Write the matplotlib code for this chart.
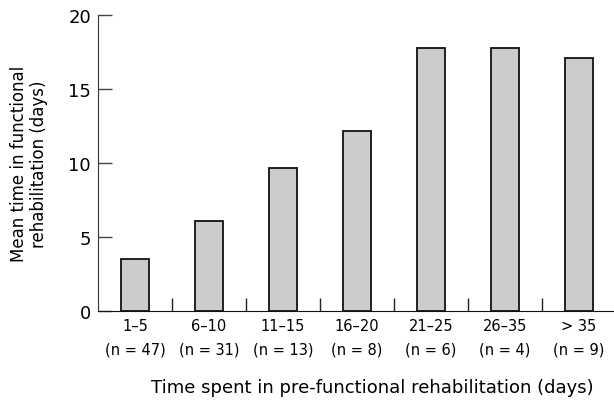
import matplotlib.pyplot as plt
import numpy as np

# 데이터
groups = ["1\u20135", "6\u201310", "11\u201315", "16\u201320", "21\u201325", "26\u201335", "> 35"]
counts = [47, 31, 13, 8, 6, 4, 9]
mean_days = [3.56, 6.1, 9.68, 12.15, 17.74, 17.74, 17.1]
y_ticks = [0, 5, 10, 15, 20]

plt.rcParams["font.family"] = ["DejaVu Sans"]

fig = plt.figure(figsize=(6.14, 4.06), dpi=100)
ax = fig.add_axes([98 / 614, 93.7 / 406, 518 / 614, 296.3 / 406])

x = np.arange(len(groups))
ax.bar(x, mean_days, width=0.39, color="#cccccc", edgecolor="#111111", linewidth=1.3)

ax.set_xlim(-0.5, len(groups) - 0.5)
ax.set_ylim(0, 20)
ax.set_yticks(y_ticks)
ax.tick_params(axis="y", direction="in", length=10, width=1, color="#444444",
               labelsize=13, pad=5)

labels = [f"{g}\n(n = {n})" for g, n in zip(groups, counts)]
ax.set_xticks(x)
ax.set_xticklabels(labels, fontsize=10.5, linespacing=1.7)
ax.tick_params(axis="x", length=0, pad=5)
ax.set_xticks(x[:-1] + 0.5, minor=True)
ax.tick_params(axis="x", which="minor", direction="in", length=9.5, width=1, color="#222222")

for s in ["top", "right"]:
    ax.spines[s].set_visible(False)
ax.spines["left"].set_color("#333333")
ax.spines["bottom"].set_color("#111111")

ax.set_ylabel("Mean time in functional\nrehabilitation (days)", fontsize=12, linespacing=1.15)
ax.yaxis.set_label_coords(-0.097, 0.5)
ax.set_xlabel("Time spent in pre-functional rehabilitation (days)", fontsize=13)
ax.xaxis.set_label_coords(0.529, -0.225)

plt.savefig("out.png", dpi=100)
